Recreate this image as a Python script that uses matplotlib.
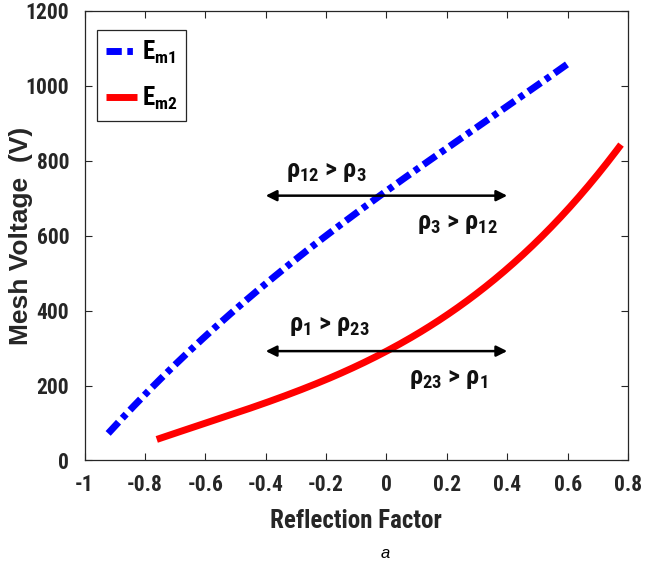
import matplotlib
matplotlib.use("Agg")
import matplotlib.pyplot as plt
from matplotlib import font_manager as fm
import numpy as np

names = {f.name for f in fm.fontManager.ttflist}
NARROW = 'DejaVu Sans'
for cand in ['Liberation Sans Narrow', 'Arial Narrow', 'Roboto Condensed',
             'Archivo Narrow', 'Barlow Condensed']:
    if cand in names:
        NARROW = cand
        break
WIDE = 'Liberation Sans' if 'Liberation Sans' in names else 'DejaVu Sans'
plt.rcParams['mathtext.default'] = 'regular'
plt.rcParams['font.family'] = [NARROW, 'DejaVu Sans']
plt.rcParams['font.stretch'] = 'condensed'

# Data
x_m1 = [-0.922, -0.8, -0.6, -0.4, -0.2, -0.027, 0.0, 0.2, 0.4, 0.6]
y_m1 = [73, 175, 331, 474, 598, 707, 719, 830, 948, 1058]
x_m2 = [-0.761, -0.6, -0.4, -0.2, 0.0, 0.2, 0.4, 0.6, 0.777]
y_m2 = [55, 100, 157, 215, 292, 385, 509, 679, 839]

arrow_x = [-0.4, 0.4]
arrow_y = [707, 292]
labels = [r"$\rho_{12}$ > $\rho_3$", r"$\rho_3$ > $\rho_{12}$",
          r"$\rho_1$ > $\rho_{23}$", r"$\rho_{23}$ > $\rho_1$"]
label_pos = [(-0.2, 770), (0.235, 632), (-0.19, 360), (0.205, 218)]

xticks = [-1, -0.8, -0.6, -0.4, -0.2, 0, 0.2, 0.4, 0.6, 0.8]
xticklabels = ["-1", "-0.8", "-0.6", "-0.4", "-0.2", "0", "0.2", "0.4", "0.6", "0.8"]
yticks = [0, 200, 400, 600, 800, 1000, 1200]

fig = plt.figure(figsize=(6.61, 5.69), dpi=100)
ax = fig.add_axes([0.128, 0.1907, 0.822, 0.790])

def smooth(xs, ys):
    xs = np.array(xs); ys = np.array(ys)
    c = np.polyfit(xs, ys, 3)
    xx = np.linspace(xs[0], xs[-1], 200)
    return xx, np.polyval(c, xx)

xx1, yy1 = smooth(x_m1, y_m1)
xx2, yy2 = smooth(x_m2, y_m2)
ax.plot(xx1, yy1, color='#0000ff', lw=5, linestyle=(0, (2.2, 0.8, 0.8, 0.8)),
        dash_capstyle='butt', label=r"E$_{m1}$")
ax.plot(xx2, yy2, color='#ff0000', lw=5, solid_capstyle='butt', label=r"E$_{m2}$")

for ay in arrow_y:
    ax.annotate("", xy=(arrow_x[0], ay), xytext=(arrow_x[1], ay),
                arrowprops=dict(arrowstyle="<|-|>", color='black', lw=1.8,
                                mutation_scale=16, shrinkA=0, shrinkB=0))

for t, (tx, ty) in zip(labels, label_pos):
    ax.text(tx, ty, t, ha='center', va='center', fontsize=19, fontweight='bold',
            color='#111111')

ax.set_xlim(-1, 0.8)
ax.set_ylim(0, 1200)
ax.set_xticks(xticks)
ax.set_xticklabels(xticklabels)
ax.set_yticks(yticks)
ax.tick_params(direction='in', top=True, right=True, length=5, width=0.8,
               colors='#262626', labelsize=15.5)
ax.tick_params(axis='y', pad=11)
ax.tick_params(axis='x', pad=10)
for lab in ax.get_xticklabels() + ax.get_yticklabels():
    lab.set_fontweight('bold')
for s in ax.spines.values():
    s.set_color('#262626')
    s.set_linewidth(0.9)

ax.set_xlabel("Reflection Factor", fontsize=18, fontweight='bold', color='#262626', labelpad=9)
ax.set_ylabel("Mesh Voltage  (V)", fontsize=19, fontweight='bold', color='#262626',
              family=[WIDE, 'DejaVu Sans'], fontstretch='normal', va='center')
ax.yaxis.set_label_coords(-0.117, 0.5)

leg = ax.legend(loc='upper left', bbox_to_anchor=(0.0226, 0.958), borderaxespad=0,
                handlelength=1.25, handletextpad=0.2, borderpad=0.35,
                labelspacing=0.75, fancybox=False, framealpha=1,
                edgecolor='#262626', prop={'family': NARROW, 'size': 18, 'weight': 'bold'})
leg.get_frame().set_linewidth(0.9)

fig.text(0.583, 0.028, "a", style='italic', fontsize=12, ha='center', va='center',
         family=[WIDE, 'DejaVu Sans'])

fig.savefig("out.png", dpi=100)
